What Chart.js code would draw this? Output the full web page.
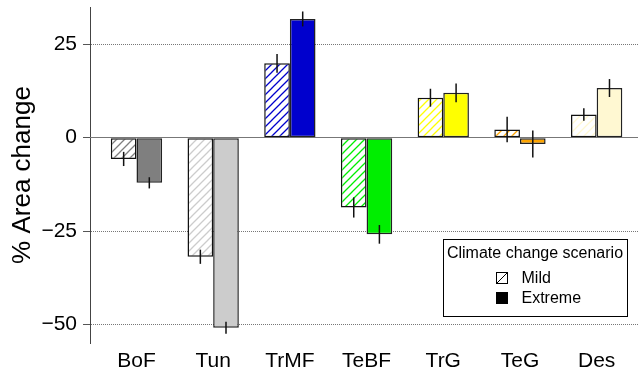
<!DOCTYPE html>
<html>
<head>
<meta charset="utf-8">
<script src="https://cdn.jsdelivr.net/npm/chart.js@4.4.1/dist/chart.umd.min.js"></script>
<style>
  html, body { margin: 0; padding: 0; background: #fff; }
</style>
</head>
<body>
<canvas id="myChart" width="638" height="372"></canvas>
<script>
// data
const categories = ['BoF', 'Tun', 'TrMF', 'TeBF', 'TrG', 'TeG', 'Des'];
const scenarios = ['Mild', 'Extreme'];
const mildValues = [-5.7, -31.9, 19.9, -18.7, 10.7, 2.2, 6.2];
const extremeValues = [-12.1, -50.9, 31.8, -25.9, 12.0, -1.7, 13.3];
const mildErrors = [1.9, 1.9, 2.5, 2.7, 2.4, 3.4, 1.7];
const extremeErrors = [1.5, 1.6, 2.0, 2.5, 2.5, 3.6, 2.4];
const yTicks = [-50, -25, 0, 25];
const legendTitle = 'Climate change scenario';

const biomeColors = ['#7f7f7f', '#cccccc', '#0000cd', '#00ee00', '#ffff00', '#ffa500', '#fff8d2'];

Chart.defaults.font.family = "'Liberation Sans', Arial, sans-serif";
Chart.defaults.color = '#000';

function hatch(color) {
  const c = document.createElement('canvas');
  c.width = 8; c.height = 8;
  const g = c.getContext('2d');
  g.fillStyle = '#fff';
  g.fillRect(0, 0, 8, 8);
  g.strokeStyle = color;
  g.lineWidth = 1.3;
  g.beginPath();
  g.moveTo(-2, 10); g.lineTo(10, -2);
  g.moveTo(-2, 2); g.lineTo(2, -2);
  g.moveTo(6, 10); g.lineTo(10, 6);
  g.stroke();
  return g.createPattern(c, 'repeat');
}

// solid line at zero (the other grid lines are dotted)
const zeroLine = {
  id: 'zeroLine',
  beforeDatasetsDraw(chart) {
    const ctx = chart.ctx, a = chart.chartArea;
    const y = Math.round(chart.scales.y.getPixelForValue(0) - 0.5) + 0.5;
    ctx.save();
    ctx.strokeStyle = '#777';
    ctx.lineWidth = 1;
    ctx.beginPath();
    ctx.moveTo(a.left, y);
    ctx.lineTo(a.right, y);
    ctx.stroke();
    ctx.restore();
  }
};

const errorBars = {
  id: 'errorBars',
  afterDatasetsDraw(chart) {
    const ctx = chart.ctx, ys = chart.scales.y;
    ctx.save();
    ctx.strokeStyle = '#111';
    ctx.lineWidth = 1.5;
    chart.data.datasets.forEach((ds, d) => {
      chart.getDatasetMeta(d).data.forEach((bar, i) => {
        const v = ds.data[i].y, e = ds.errors[i];
        ctx.beginPath();
        ctx.moveTo(bar.x, ys.getPixelForValue(v + e));
        ctx.lineTo(bar.x, ys.getPixelForValue(v - e));
        ctx.stroke();
      });
    });
    ctx.restore();
  }
};

const legendBox = {
  id: 'legendBox',
  afterDraw(chart) {
    const ctx = chart.ctx, a = chart.chartArea;
    const left = a.right - 195, top = a.bottom - 104.5, w = 184, h = 77;
    ctx.save();
    ctx.fillStyle = '#fff';
    ctx.fillRect(left, top, w, h);
    ctx.strokeStyle = '#000';
    ctx.lineWidth = 1;
    ctx.strokeRect(Math.round(left) + 0.5, Math.round(top) + 0.5, w, h);
    ctx.fillStyle = '#000';
    ctx.font = "16px 'Liberation Sans', Arial, sans-serif";
    ctx.textAlign = 'center';
    ctx.textBaseline = 'middle';
    ctx.fillText(legendTitle, left + w / 2, top + 15);
    ctx.textAlign = 'left';
    scenarios.forEach((name, k) => {
      const cy = top + 39 + k * 20;
      const sx = left + 53, s = 11;
      if (k === 0) {
        ctx.strokeStyle = '#000';
        ctx.lineWidth = 1;
        ctx.strokeRect(sx + 0.5, cy - s / 2 + 0.5, s, s);
        ctx.beginPath();
        ctx.moveTo(sx + 1, cy + s / 2);
        ctx.lineTo(sx + s, cy - s / 2 + 1);
        ctx.stroke();
      } else {
        ctx.fillRect(sx, cy - s / 2, s + 1, s + 1);
      }
      ctx.fillText(name, left + 78.5, cy + 1);
    });
    ctx.restore();
  }
};

const data = {
  datasets: [
    {
      label: scenarios[0],
      data: mildValues.map((v, i) => ({ x: i, y: v })),
      errors: mildErrors,
      backgroundColor: biomeColors.map(hatch),
      borderColor: '#111',
      borderWidth: 1.5,
      borderSkipped: false,
      categoryPercentage: 0.669,
      barPercentage: 1
    },
    {
      label: scenarios[1],
      data: extremeValues.map((v, i) => ({ x: i, y: v })),
      errors: extremeErrors,
      backgroundColor: biomeColors,
      borderColor: '#222',
      borderWidth: 1.5,
      borderSkipped: false,
      categoryPercentage: 0.669,
      barPercentage: 1
    }
  ]
};

const config = {
  type: 'bar',
  data,
  options: {
    responsive: false,
    animation: false,
    devicePixelRatio: 1,
    layout: { padding: { top: 7, right: 0, bottom: 0, left: 0 } },
    plugins: { legend: { display: false }, tooltip: { enabled: false } },
    scales: {
      x: {
        type: 'linear',
        offset: false,
        min: -0.606,
        max: 6.539,
        grid: { display: false, drawTicks: false },
        border: { display: false },
        afterBuildTicks: axis => { axis.ticks = categories.map((c, i) => ({ value: i })); },
        afterFit: axis => { axis.height = 29; axis.paddingLeft = 0; axis.paddingRight = 0; },
        ticks: {
          autoSkip: false,
          maxRotation: 0,
          padding: 8,
          font: { size: 21, lineHeight: 1 },
          callback: v => categories[v]
        }
      },
      y: {
        min: -55,
        max: 35,
        afterBuildTicks: axis => { axis.ticks = yTicks.map(v => ({ value: v })); },
        afterFit: axis => { axis.width = 90; axis.paddingTop = 0; axis.paddingBottom = 0; },
        grid: {
          color: c => (c.tick && c.tick.value === 0 ? 'rgba(0,0,0,0)' : '#777'),
          lineWidth: 1,
          tickColor: '#555',
          tickLength: 7
        },
        border: { color: '#444', width: 1, dash: [1, 1] },
        ticks: {
          padding: 6,
          font: { size: 21 },
          callback: v => String(v).replace('-', '\u2212')
        },
        title: {
          display: true,
          text: '% Area change',
          font: { size: 26 },
          padding: { top: 7, bottom: 0 }
        }
      }
    }
  },
  plugins: [zeroLine, errorBars, legendBox]
};

const myChart = new Chart(document.getElementById('myChart'), config);
</script>
</body>
</html>
